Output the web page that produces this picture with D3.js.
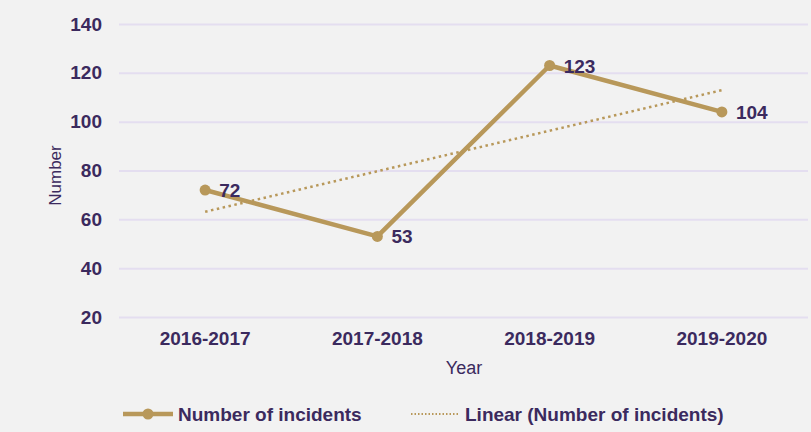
<!DOCTYPE html>
<html>
<head>
<meta charset="utf-8">
<script src="https://cdn.jsdelivr.net/npm/d3@7"></script>
<style>
    body { margin: 0; background: #f2f2f2; }
    svg { display: block; font-family: "Liberation Sans", Arial, sans-serif; }
</style>
</head>
<body>
<div id="chart-container"></div>
<script>
// chart data
const years = ["2016-2017", "2017-2018", "2018-2019", "2019-2020"];
const incidents = [72, 53, 123, 104];
const yTicks = [20, 40, 60, 80, 100, 120, 140];

const width = 811, height = 432;
const margin = { top: 24, right: 3, bottom: 115, left: 119 };
const textColor = "#3b2a5e";
const lineColor = "#b8985a";

const svg = d3.select("#chart-container")
    .append("svg")
    .attr("width", width)
    .attr("height", height);

svg.append("rect")
    .attr("width", width)
    .attr("height", height)
    .attr("fill", "#f2f2f2");

const x = d3.scaleBand()
    .domain(years)
    .range([margin.left, width - margin.right]);

const y = d3.scaleLinear()
    .domain([20, 140])
    .range([height - margin.bottom - 0, margin.top]);

const cx = d => x(d) + x.bandwidth() / 2;

// gridlines + y tick labels
const yAxis = g => g
    .attr("transform", `translate(${margin.left},0)`)
    .call(d3.axisLeft(y).tickValues(yTicks).tickSize(-(width - margin.left - margin.right)).tickPadding(17))
    .call(g => g.select(".domain").remove())
    .call(g => g.selectAll(".tick line").attr("stroke", "#e4def0").attr("stroke-width", 2))
    .call(g => g.selectAll(".tick text")
        .attr("fill", textColor)
        .attr("font-size", 19)
        .attr("font-weight", "bold")
        .attr("font-family", "Liberation Sans, Arial, sans-serif"));

svg.append("g").call(yAxis);

// x labels
const xAxis = g => g
    .attr("transform", `translate(0,${y(20)})`)
    .call(d3.axisBottom(x).tickSize(0).tickPadding(15))
    .call(g => g.select(".domain").remove())
    .call(g => g.selectAll(".tick text")
        .attr("fill", textColor)
        .attr("font-size", 19)
        .attr("font-weight", "bold")
        .attr("font-family", "Liberation Sans, Arial, sans-serif"));

svg.append("g").call(xAxis);

// axis titles
svg.append("text")
    .attr("x", 464)
    .attr("y", 374)
    .attr("text-anchor", "middle")
    .attr("fill", textColor)
    .attr("font-size", 18)
    .text("Year");

svg.append("text")
    .attr("transform", `translate(61,${(y(20) + y(140)) / 2 + 5}) rotate(-90)`)
    .attr("text-anchor", "middle")
    .attr("fill", textColor)
    .attr("font-size", 17)
    .text("Number");

// linear trend (least squares over the series)
const n = incidents.length;
const xs = incidents.map((d, i) => i + 1);
const mx = d3.mean(xs), my = d3.mean(incidents);
const slope = d3.sum(xs, (v, i) => (v - mx) * (incidents[i] - my)) / d3.sum(xs, v => (v - mx) ** 2);
const trend = xs.map(v => my + slope * (v - mx));

svg.append("path")
    .datum(trend)
    .attr("fill", "none")
    .attr("stroke", lineColor)
    .attr("stroke-width", 2.5)
    .attr("stroke-dasharray", "2.5 3.5")
    .attr("d", d3.line().x((d, i) => cx(years[i])).y(d => y(d)));

// main line
const line = d3.line()
    .x((d, i) => cx(years[i]))
    .y(d => y(d));

svg.append("path")
    .datum(incidents)
    .attr("fill", "none")
    .attr("stroke", lineColor)
    .attr("stroke-width", 4.5)
    .attr("stroke-linejoin", "round")
    .attr("d", line);

svg.selectAll(".dot")
    .data(incidents)
    .enter().append("circle")
    .attr("class", "dot")
    .attr("cx", (d, i) => cx(years[i]))
    .attr("cy", d => y(d))
    .attr("r", 5.5)
    .attr("fill", lineColor);

svg.selectAll(".label")
    .data(incidents)
    .enter().append("text")
    .attr("class", "label")
    .attr("x", (d, i) => cx(years[i]) + 14)
    .attr("y", d => y(d) + 7)
    .attr("fill", textColor)
    .attr("font-size", 19)
    .attr("font-weight", "bold")
    .text(d => d);

// legend
const ly = 414;
const legend = svg.append("g");
legend.append("line")
    .attr("x1", 123).attr("x2", 173).attr("y1", ly).attr("y2", ly)
    .attr("stroke", lineColor).attr("stroke-width", 4.5);
legend.append("circle")
    .attr("cx", 148).attr("cy", ly).attr("r", 5.5).attr("fill", lineColor);
legend.append("text")
    .attr("x", 178).attr("y", ly + 7)
    .attr("fill", textColor).attr("font-size", 19).attr("font-weight", "bold")
    .text("Number of incidents");
legend.append("line")
    .attr("x1", 411).attr("x2", 460).attr("y1", ly).attr("y2", ly)
    .attr("stroke", lineColor).attr("stroke-width", 2).attr("stroke-dasharray", "1.5 2");
legend.append("text")
    .attr("x", 465).attr("y", ly + 7)
    .attr("fill", textColor).attr("font-size", 19).attr("font-weight", "bold")
    .text("Linear (Number of incidents)");
</script>
</body>
</html>
